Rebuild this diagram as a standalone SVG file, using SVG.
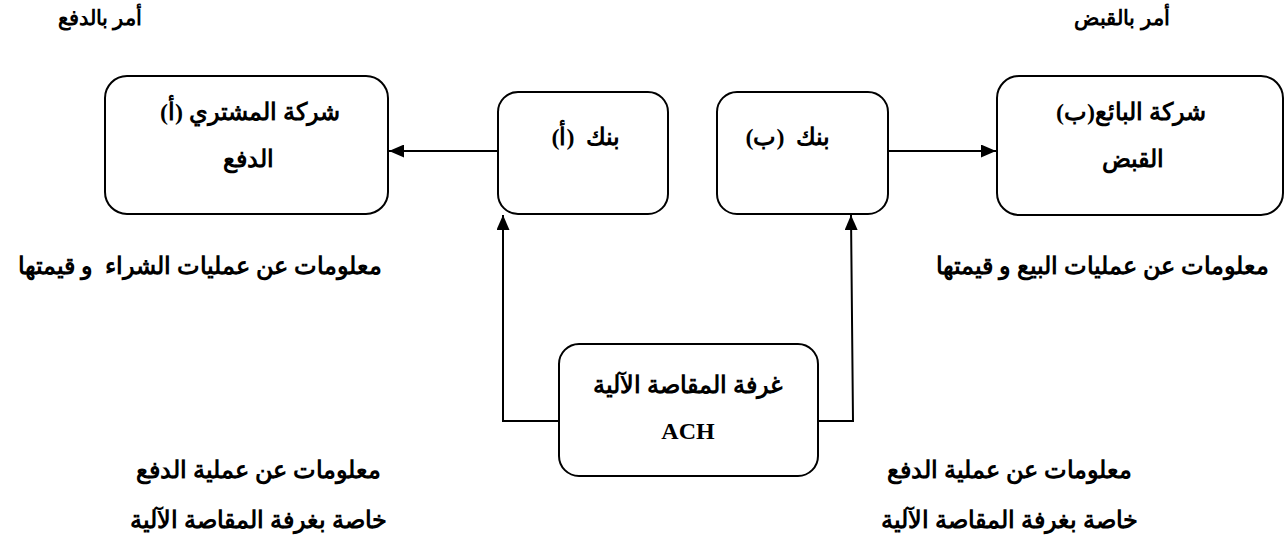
<svg xmlns="http://www.w3.org/2000/svg" width="1286" height="543" viewBox="0 0 1286 543">
  <style>
    .box { fill: #ffffff; stroke: #000000; stroke-width: 2; }
    .line { fill: none; stroke: #000000; stroke-width: 2; }
    text { font-family: "Liberation Serif", "DejaVu Serif", "Noto Sans", serif; font-weight: bold; font-size: 24px; fill: #000000; text-anchor: middle; white-space: pre; }
    .head { font-size: 21px; }
  </style>
  <defs>
    <marker id="arrow" viewBox="0 0 15 13" refX="15" refY="6.5" markerWidth="15" markerHeight="13" markerUnits="userSpaceOnUse" orient="auto">
      <path d="M0,0 L15,6.5 L0,13 Z" fill="#000000"/>
    </marker>
  </defs>
  <rect width="1286" height="543" fill="#ffffff"/>

  <!-- connectors -->
  <g id="connectors">
    <line class="line" x1="498" y1="151" x2="389" y2="151" marker-end="url(#arrow)"/>
    <line class="line" x1="888" y1="151" x2="996" y2="151" marker-end="url(#arrow)"/>
    <polyline class="line" points="559,421 503,421 503,215" marker-end="url(#arrow)"/>
    <polyline class="line" points="818,421 853,421 851,215" marker-end="url(#arrow)"/>
  </g>

  <!-- order labels -->
  <text class="head" x="100" y="25" direction="rtl">أمر بالدفع</text>
  <text class="head" x="1122" y="25" direction="rtl">أمر بالقبض</text>

  <g id="buyer">
    <rect class="box" x="105" y="76" width="283" height="138" rx="22"/>
    <text x="250" y="120" direction="rtl">شركة المشتري (أ)</text>
    <text x="248" y="167" direction="rtl">الدفع</text>
  </g>

  <g id="bank-a">
    <rect class="box" x="498" y="92" width="170" height="122" rx="20"/>
    <text x="586" y="145" direction="rtl">بنك  (أ)</text>
  </g>

  <g id="bank-b">
    <rect class="box" x="717" y="92" width="171" height="122" rx="20"/>
    <text x="788" y="145" direction="rtl">بنك  (ب)</text>
  </g>

  <g id="seller">
    <rect class="box" x="997" y="76" width="286" height="139" rx="22"/>
    <text x="1131" y="120" direction="rtl">شركة البائع(ب)</text>
    <text x="1133" y="167" direction="rtl">القبض</text>
  </g>

  <g id="ach">
    <rect class="box" x="559" y="344" width="259" height="132" rx="20"/>
    <text x="688" y="393" direction="rtl">غرفة المقاصة الآلية</text>
    <text x="688" y="439">ACH</text>
  </g>

  <!-- information labels -->
  <text x="200" y="274" direction="rtl">معلومات عن عمليات الشراء  و قيمتها</text>
  <text x="1102" y="274" direction="rtl">معلومات عن عمليات البيع و قيمتها</text>
  <text x="258" y="478" direction="rtl">معلومات عن عملية الدفع</text>
  <text x="258" y="528" direction="rtl">خاصة بغرفة المقاصة الآلية</text>
  <text x="1009" y="478" direction="rtl">معلومات عن عملية الدفع</text>
  <text x="1009" y="528" direction="rtl">خاصة بغرفة المقاصة الآلية</text>
</svg>
